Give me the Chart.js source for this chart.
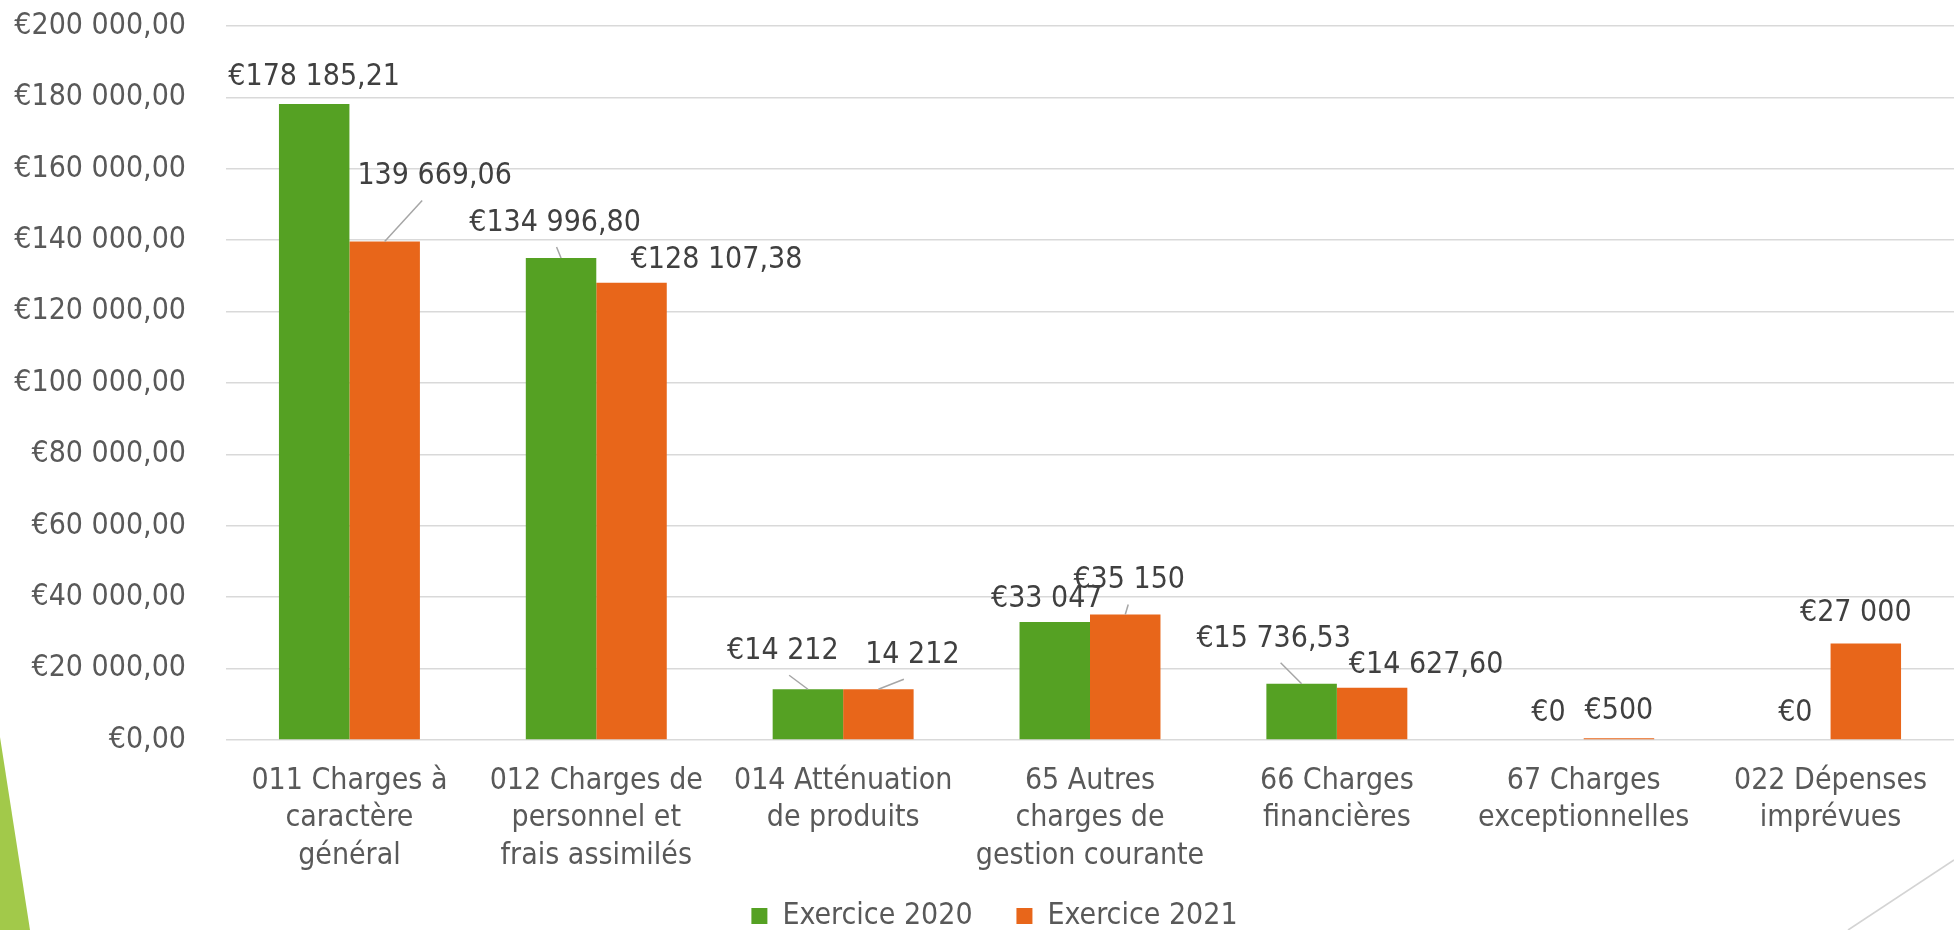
<!DOCTYPE html>
<html>
<head>
<meta charset="utf-8">
<script src="https://cdn.jsdelivr.net/npm/chart.js@4.4.0/dist/chart.umd.min.js"></script>
<style>
  html, body { margin: 0; padding: 0; background: #fff; overflow: hidden; }
  canvas { display: block; }
</style>
</head>
<body>
<canvas id="depenses" width="1954" height="941"></canvas>
<script>
var categories = [
	["011 Charges à", "caractère", "général"],
	["012 Charges de", "personnel et", "frais assimilés"],
	["014 Atténuation", "de produits"],
	["65 Autres", "charges de", "gestion courante"],
	["66 Charges", "financières"],
	["67 Charges", "exceptionnelles"],
	["022 Dépenses", "imprévues"]
];

var exercice2020 = [178185.21, 134996.80, 14212, 33047, 15736.53, 0, 0];
var exercice2021 = [139669.06, 128107.38, 14212, 35150, 14627.60, 500, 27000];

var labels2020 = ["€178 185,21", "€134 996,80", "€14 212", "€33 047", "€15 736,53", "€0", "€0"];
var labels2021 = ["139 669,06", "€128 107,38", "14 212", "€35 150", "€14 627,60", "€500", "€27 000"];

var yTicks = ["€0,00", "€20 000,00", "€40 000,00", "€60 000,00", "€80 000,00", "€100 000,00",
	"€120 000,00", "€140 000,00", "€160 000,00", "€180 000,00", "€200 000,00"];

var FONT = "'DejaVu Sans Condensed', 'Liberation Sans', sans-serif";

// label nudges: [dx, dy, leader line]
var nudges = {
	"1-0": [50, -38, true],
	"0-1": [-6, -8, true],
	"1-1": [85, 5, false],
	"0-2": [-25, -11, true],
	"1-2": [34, -7, true],
	"0-3": [-8, 4, false],
	"1-3": [4, -7, true],
	"0-4": [-28, -18, true],
	"1-4": [54, 4, false],
	"1-6": [-10, -3, false]
};

var valueLabels = {
	id: "valueLabels",
	afterDatasetsDraw: function(chart) {
		var ctx = chart.ctx;
		var texts = [labels2020, labels2021];
		ctx.save();
		ctx.font = "30px " + FONT;
		ctx.textAlign = "center";
		ctx.textBaseline = "middle";
		chart.data.datasets.forEach(function(ds, d) {
			chart.getDatasetMeta(d).data.forEach(function(bar, i) {
				var n = nudges[d + "-" + i] || [0, 0, false];
				var x = bar.x + n[0];
				var y = bar.y - 27 + n[1];
				if (n[2]) {
					ctx.strokeStyle = "#a6a6a6";
					ctx.lineWidth = 1.5;
					ctx.beginPath();
					ctx.moveTo(x + (bar.x - x) * 0.25, y + 24);
					ctx.lineTo(bar.x, bar.y);
					ctx.stroke();
				}
				ctx.fillStyle = "#404040";
				ctx.fillText(texts[d][i], x, y);
			});
		});
		ctx.restore();
	}
};

var decor = {
	id: "decor",
	afterLayout: function(chart) {
		// legend sits a little right of the page centre
		chart.legend.left += 35;
	},
	beforeDraw: function(chart) {
		var ctx = chart.ctx;
		ctx.save();
		ctx.fillStyle = "#a2c94a";
		ctx.beginPath();
		ctx.moveTo(0, 737);
		ctx.lineTo(30, 930);
		ctx.lineTo(0, 930);
		ctx.closePath();
		ctx.fill();
		ctx.strokeStyle = "#d4d4d4";
		ctx.lineWidth = 1.5;
		ctx.beginPath();
		ctx.moveTo(1954, 860);
		ctx.lineTo(1848, 930);
		ctx.stroke();
		ctx.restore();
	}
};

var chartdata = {
	labels: categories,
	datasets: [
		{
			label: "Exercice 2020",
			backgroundColor: "#55a123",
			data: exercice2020
		},
		{
			label: "Exercice 2021",
			backgroundColor: "#e8661a",
			data: exercice2021
		}
	]
};

var ctx = document.getElementById("depenses");

var BarGraph = new Chart(ctx, {
	type: "bar",
	data: chartdata,
	plugins: [decor, valueLabels],
	options: {
		responsive: false,
		animation: false,
		devicePixelRatio: 1,
		layout: { padding: { left: 0, top: 26, right: 0, bottom: 0 } },
		datasets: { bar: { categoryPercentage: 0.571, barPercentage: 1.0 } },
		plugins: {
			tooltip: { enabled: false },
			legend: {
				position: "bottom",
				labels: {
					color: "#595959",
					font: { family: FONT, size: 30 },
					boxWidth: 16,
					boxHeight: 16,
					padding: 25,
					generateLabels: function(chart) {
						var items = Chart.defaults.plugins.legend.labels.generateLabels(chart);
						items[0].text += "\u2002\u2009";
						return items;
					}
				}
			}
		},
		scales: {
			x: {
				grid: { display: false, drawTicks: false },
				border: { display: false },
				ticks: {
					color: "#595959",
					font: { family: FONT, size: 30, lineHeight: 1.25 },
					padding: 22,
					maxRotation: 0,
					autoSkip: false
				},
				afterFit: function(scale) { scale.height = 136; }
			},
			y: {
				min: 0,
				max: 200000,
				grid: { color: "#d9d9d9", lineWidth: 1.5, drawTicks: true, tickLength: 32, tickColor: "rgba(0,0,0,0)" },
				border: { display: false },
				ticks: {
					stepSize: 20000,
					color: "#595959",
					font: { family: FONT, size: 30 },
					padding: 8,
					callback: function(v, i) { return yTicks[i]; }
				},
				afterFit: function(scale) { scale.width = 226; }
			}
		}
	}
});
</script>
</body>
</html>
